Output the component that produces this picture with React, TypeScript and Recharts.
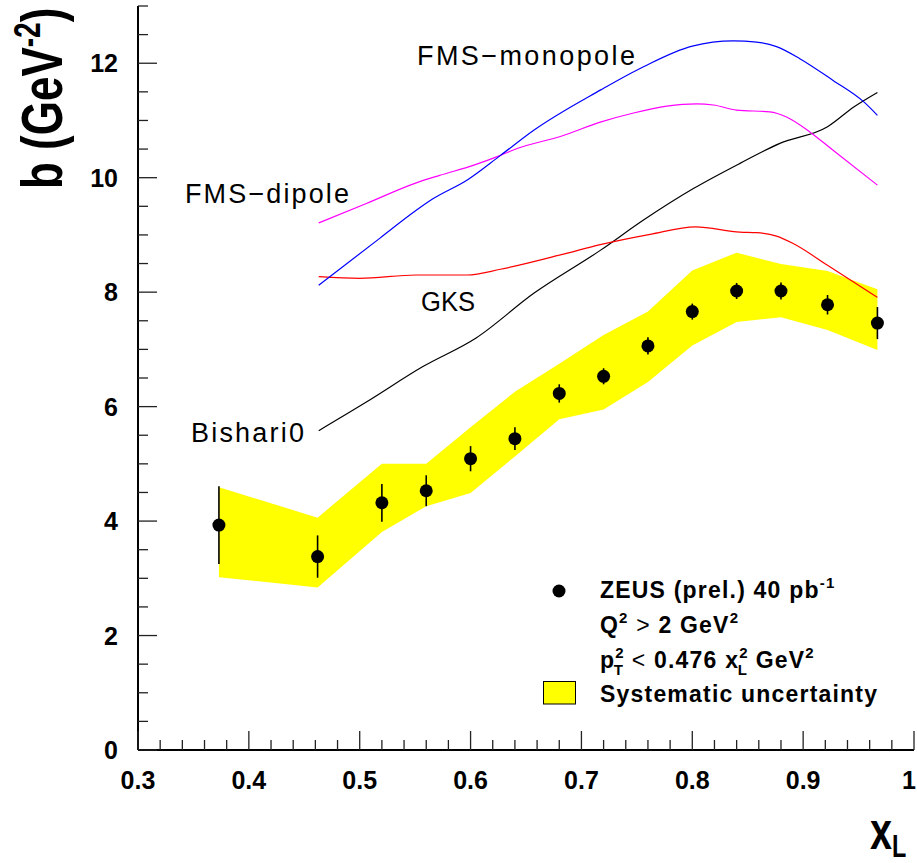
import React from 'react';
import { ComposedChart, Line, Area, Scatter, ErrorBar, XAxis, YAxis } from 'recharts';

// ZEUS data points
const pointX = [0.373, 0.462, 0.52, 0.56, 0.6, 0.64, 0.68, 0.72, 0.76, 0.8, 0.84, 0.88, 0.922, 0.967];
const pointY = [3.93, 3.38, 4.32, 4.53, 5.09, 5.44, 6.23, 6.53, 7.06, 7.66, 8.02, 8.02, 7.78, 7.46];
const pointErr = [0.68, 0.37, 0.33, 0.27, 0.22, 0.2, 0.16, 0.14, 0.15, 0.14, 0.14, 0.15, 0.17, 0.28];

// systematic band
const bandLow = [3.02, 2.84, 3.81, 4.26, 4.49, 5.13, 5.78, 5.95, 6.43, 7.07, 7.48, 7.56, 7.34, 6.99];
const bandHigh = [4.59, 4.06, 5.0, 5.0, 5.64, 6.26, 6.75, 7.25, 7.66, 8.38, 8.69, 8.49, 8.37, 8.05];

// model curves
const monopoleX = [0.463, 0.518, 0.551, 0.566, 0.597, 0.627, 0.657, 0.717, 0.756, 0.8, 0.837, 0.858, 0.876, 0.897, 0.927, 0.955, 0.967];
const monopoleY = [8.12, 8.94, 9.43, 9.63, 9.96, 10.39, 10.83, 11.53, 11.94, 12.3, 12.39, 12.37, 12.29, 12.08, 11.7, 11.32, 11.09];

const dipoleX = [0.463, 0.506, 0.551, 0.572, 0.603, 0.627, 0.642, 0.681, 0.717, 0.747, 0.777, 0.804, 0.819, 0.84, 0.87, 0.885, 0.906, 0.927, 0.967];
const dipoleY = [9.21, 9.55, 9.91, 10.04, 10.22, 10.39, 10.51, 10.72, 10.97, 11.13, 11.25, 11.29, 11.27, 11.18, 11.15, 11.06, 10.8, 10.48, 9.87];

const gksX = [0.463, 0.5, 0.551, 0.597, 0.627, 0.681, 0.717, 0.762, 0.803, 0.843, 0.858, 0.876, 0.891, 0.922, 0.967];
const gksY = [8.27, 8.24, 8.3, 8.3, 8.4, 8.65, 8.83, 9.01, 9.14, 9.05, 9.04, 8.98, 8.85, 8.47, 7.91];

const bishariX = [0.463, 0.506, 0.557, 0.605, 0.657, 0.717, 0.756, 0.801, 0.843, 0.879, 0.922, 0.946, 0.967];
const bishariY = [5.58, 6.08, 6.7, 7.2, 7.98, 8.73, 9.26, 9.81, 10.25, 10.6, 10.89, 11.24, 11.49];

// axis ticks
const xMajorTicks = [0.3, 0.4, 0.5, 0.6, 0.7, 0.8, 0.9, 1];
const yMajorTicks = [0, 2, 4, 6, 8, 10, 12];
const xTicks = Array.from({ length: 36 }, (_, i) => +(0.3 + i * 0.02).toFixed(2));
const yTicks = Array.from({ length: 27 }, (_, i) => i * 0.5);

const points = pointX.map((x, i) => ({ x, y: pointY[i], err: pointErr[i] }));
const band = pointX.map((x, i) => ({ x, band: [bandLow[i], bandHigh[i]] }));
const zip = (xs: number[], ys: number[]) => xs.map((x, i) => ({ x, y: ys[i] }));

const FONT = '"Liberation Sans", Arial, Helvetica, sans-serif';
const isMajor = (list: number[], v: number) => list.some(t => Math.abs(t - v) < 1e-6);

const BottomTick = (props: any) => {
  const { x, y, payload } = props;
  const major = isMajor(xMajorTicks, payload.value);
  const last = payload.value === 1;
  return (
    <g>
      <line x1={x} y1={y} x2={x} y2={y - (major ? 19 : 10)} stroke="#222" strokeWidth={1.3} />
      {major && (
        <text
          x={last ? 916 : x}
          y={y + 39}
          textAnchor={last ? 'end' : 'middle'}
          fontSize={25}
          fontWeight="bold"
          fontFamily={FONT}
          fill="#000"
        >
          {String(payload.value)}
        </text>
      )}
    </g>
  );
};

const TopTick = (props: any) => {
  const { x, y, payload } = props;
  const major = isMajor(xMajorTicks, payload.value);
  return <line x1={x} y1={y} x2={x} y2={y + (major ? 19 : 10)} stroke="#222" strokeWidth={1.3} />;
};

const LeftTick = (props: any) => {
  const { x, y, payload } = props;
  const major = isMajor(yMajorTicks, payload.value);
  return (
    <g>
      <line x1={x} y1={y} x2={x + (major ? 19 : 10)} y2={y} stroke="#222" strokeWidth={1.3} />
      {major && (
        <text x={x - 20} y={y + 9} textAnchor="end" fontSize={25} fontWeight="bold" fontFamily={FONT} fill="#000">
          {String(payload.value)}
        </text>
      )}
    </g>
  );
};

const RightTick = (props: any) => {
  const { x, y, payload } = props;
  const major = isMajor(yMajorTicks, payload.value);
  return <line x1={x} y1={y} x2={x - (major ? 19 : 10)} y2={y} stroke="#222" strokeWidth={1.3} />;
};

const Dot = (props: any) => <circle cx={props.cx} cy={props.cy} r={6.5} fill="#000" />;

const axisLine = { stroke: '#000', strokeWidth: 2 };

export default function App() {
  return (
    <div style={{ position: 'absolute', left: 0, top: 0, width: 917, height: 863, background: '#fff' }}>
      <ComposedChart width={917} height={863} margin={{ top: 6, right: 3, bottom: 0, left: 0 }}>
        <XAxis
          xAxisId="b"
          dataKey="x"
          type="number"
          orientation="bottom"
          domain={[0.3, 1]}
          ticks={xTicks}
          interval={0}
          allowDataOverflow
          height={113}
          tickSize={0}
          tickMargin={0}
          tickLine={false}
          axisLine={axisLine}
          tick={<BottomTick />}
        />
        <XAxis
          xAxisId="t"
          dataKey="x"
          type="number"
          orientation="top"
          domain={[0.3, 1]}
          ticks={xTicks}
          interval={0}
          allowDataOverflow
          height={0}
          tickSize={0}
          tickMargin={0}
          tickLine={false}
          axisLine={axisLine}
          tick={<TopTick />}
        />
        <YAxis
          yAxisId="l"
          type="number"
          orientation="left"
          domain={[0, 13]}
          ticks={yTicks}
          interval={0}
          allowDataOverflow
          width={138}
          tickSize={0}
          tickMargin={0}
          tickLine={false}
          axisLine={axisLine}
          tick={<LeftTick />}
        />
        <YAxis
          yAxisId="r"
          type="number"
          orientation="right"
          domain={[0, 13]}
          ticks={yTicks}
          interval={0}
          allowDataOverflow
          width={0}
          tickSize={0}
          tickMargin={0}
          tickLine={false}
          axisLine={axisLine}
          tick={<RightTick />}
        />
        <Area
          xAxisId="b"
          yAxisId="l"
          data={band}
          dataKey="band"
          type="linear"
          fill="#ffff00"
          fillOpacity={1}
          stroke="none"
          isAnimationActive={false}
        />
        <Line xAxisId="b" yAxisId="l" data={zip(bishariX, bishariY)} dataKey="y" type="monotone" stroke="#000" strokeWidth={1.2} dot={false} isAnimationActive={false} />
        <Line xAxisId="b" yAxisId="l" data={zip(gksX, gksY)} dataKey="y" type="monotone" stroke="#ff0000" strokeWidth={1.2} dot={false} isAnimationActive={false} />
        <Line xAxisId="b" yAxisId="l" data={zip(dipoleX, dipoleY)} dataKey="y" type="monotone" stroke="#ff00ff" strokeWidth={1.2} dot={false} isAnimationActive={false} />
        <Line xAxisId="b" yAxisId="l" data={zip(monopoleX, monopoleY)} dataKey="y" type="monotone" stroke="#0000ff" strokeWidth={1.2} dot={false} isAnimationActive={false} />
        <Scatter xAxisId="b" yAxisId="l" data={points} dataKey="y" shape={<Dot />} isAnimationActive={false}>
          <ErrorBar dataKey="err" direction="y" width={0} stroke="#000" strokeWidth={1.6} />
        </Scatter>
      </ComposedChart>

      <svg width={917} height={863} style={{ position: 'absolute', left: 0, top: 0, pointerEvents: 'none' }}>
        {/* axis titles */}
        <text
          transform="translate(62,189) scale(1.3,1) rotate(-90)"
          fontSize={44}
          fontWeight="bold"
          fontFamily={FONT}
          fill="#000"
        >
          b (GeV<tspan fontSize={28} dy={-17}>-2</tspan>
          <tspan dy={17}>)</tspan>
        </text>
        <text transform="translate(870,849) scale(0.9,1.2)" fontSize={44} fontWeight="bold" fontFamily={FONT} fill="#000">
          x<tspan fontSize={26} dy={7}>L</tspan>
        </text>

        {/* curve labels */}
        <g fontFamily={FONT} fontSize={27} fill="#000">
          <text x={417} y={65} textLength={218} lengthAdjust="spacing">FMS−monopole</text>
          <text x={185} y={203} textLength={164} lengthAdjust="spacing">FMS−dipole</text>
          <text x={421} y={311} textLength={54} lengthAdjust="spacingAndGlyphs">GKS</text>
          <text x={191} y={442} textLength={113} lengthAdjust="spacing">Bishari0</text>
        </g>

        {/* legend */}
        <g fontFamily={FONT} fontSize={23} fontWeight="bold" fill="#000" style={{ letterSpacing: '1.2px' }}>
          <circle cx={559} cy={591} r={6.5} fill="#000" />
          <text x={600} y={598}>
            ZEUS (prel.) 40 pb<tspan fontSize={15} dy={-10}>-1</tspan>
          </text>
          <text x={600} y={633}>
            Q<tspan fontSize={15} dy={-10}>2</tspan>
            <tspan dy={10} fontWeight="normal"> &gt; </tspan>2 GeV<tspan fontSize={15} dy={-10}>2</tspan>
          </text>
          <text x={600} y={668}>
            p<tspan fontSize={15} dy={-10}>2</tspan>
            <tspan fontSize={15} dx={-11} dy={17}>T</tspan>
            <tspan dy={-7} fontWeight="normal"> &lt; </tspan>0.476 x<tspan fontSize={15} dy={-10}>2</tspan>
            <tspan fontSize={15} dx={-11} dy={17}>L</tspan>
            <tspan dy={-7}> GeV</tspan>
            <tspan fontSize={15} dy={-10}>2</tspan>
          </text>
          <rect x={543.5} y={681.5} width={32} height={22.5} fill="#ffff00" stroke="#000" strokeWidth={1} />
          <text x={600} y={702}>Systematic uncertainty</text>
        </g>
      </svg>
    </div>
  );
}
